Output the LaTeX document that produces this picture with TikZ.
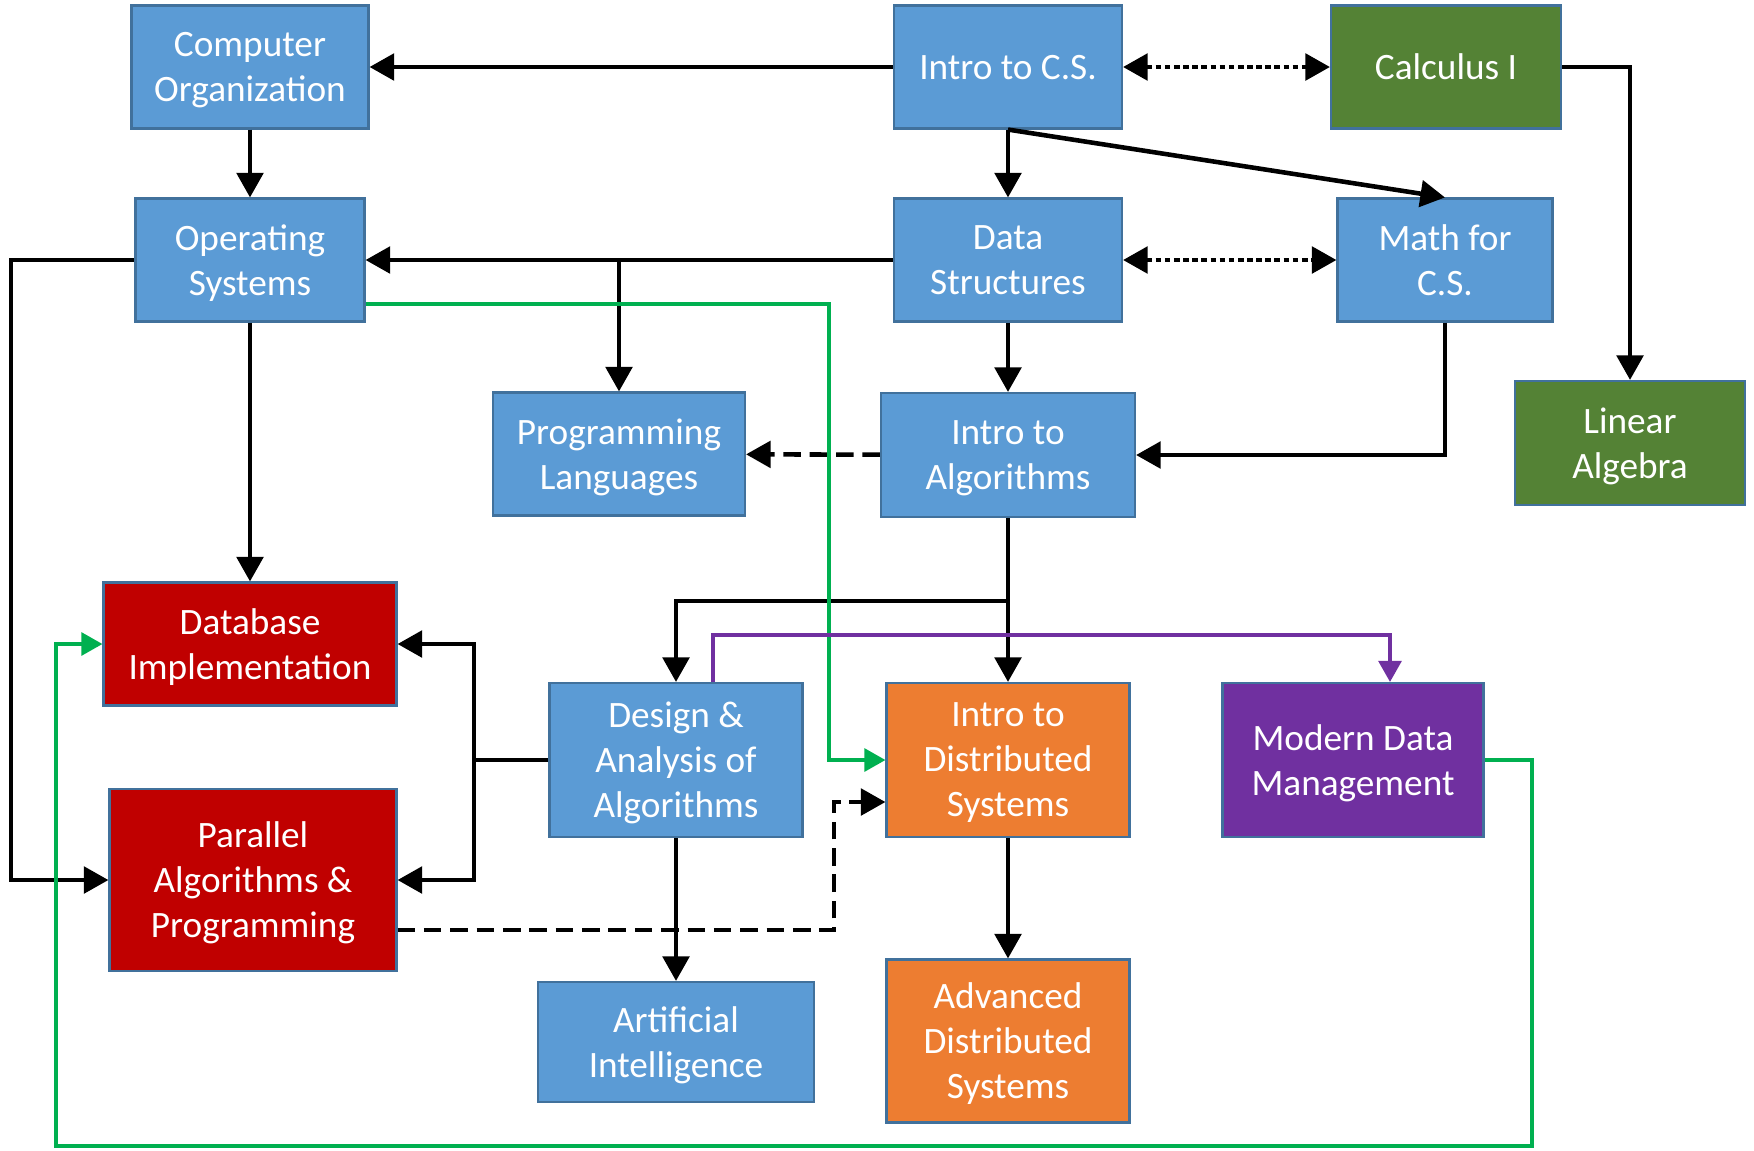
\documentclass[tikz,border=0pt]{standalone}
\usepackage{fontspec}
\setmainfont{Carlito}
\usetikzlibrary{arrows.meta}

\definecolor{csblue}{HTML}{5B9BD5}
\definecolor{mathgreen}{HTML}{548235}
\definecolor{dbred}{HTML}{C00000}
\definecolor{distorange}{HTML}{ED7D31}
\definecolor{datapurple}{HTML}{7030A0}
\definecolor{frameblue}{HTML}{41719C}
\definecolor{linkgreen}{HTML}{00B050}

\begin{document}
\begin{tikzpicture} [
                x=0.1mm, y=-0.1mm,
                course/.style={draw=frameblue,line width=0.6pt,inner sep=0pt,align=center,text depth=-1.2pt,
                    text=white,font=\fontsize{10.6}{12.8}\selectfont},
                link/.style = {draw,line width=1.3pt,-{Triangle[length=7pt,width=7.5pt]}},
                both link/.style = {draw,line width=1.3pt,{Triangle[length=7pt,width=7.5pt]}-{Triangle[length=7pt,width=7.5pt]},
                    dash pattern=on 1.6pt off 1pt},
                maybe link/.style = {link,dash pattern=on 5pt off 2.5pt},
                green link/.style = {draw,linkgreen,line width=1pt,-{Triangle[length=6pt,width=6.5pt]}},
                purple link/.style = {draw,datapurple,line width=1pt,-{Triangle[length=6pt,width=6.5pt]}},
            ]
            \useasboundingbox (0,0) rectangle (1754,1150);
            % First we draw the courses
            \foreach \pos/\name/\w/\h/\col/\label in {
                    {(250,67)/comporg/237/123/csblue/Computer\\Organization},
                    {(1008,67)/introcs/228/123/csblue/Intro to C.S.},
                    {(1446,67)/calc/230/123/mathgreen/Calculus I},
                    {(250,260)/os/229/123/csblue/Operating\\Systems},
                    {(1008,260)/ds/228/123/csblue/Data\\Structures},
                    {(1445,260)/mathcs/215/123/csblue/Math for\\C.S.},
                    {(619,454)/proglang/252/123/csblue/Programming\\Languages},
                    {(1008,455)/introalgo/254/124/csblue/Intro to\\Algorithms},
                    {(1630,443)/linalg/230/124/mathgreen/Linear\\Algebra},
                    {(250,644)/dbimpl/293/123/dbred/Database\\Implementation},
                    {(253,880)/parallel/287/182/dbred/Parallel\\Algorithms \&\\Programming},
                    {(676,760)/design/253/154/csblue/Design \&\\Analysis of\\Algorithms},
                    {(1008,760)/introdist/243/154/distorange/Intro to\\Distributed\\Systems},
                    {(1353,760)/moderndata/261/154/datapurple/Modern Data\\Management},
                    {(676,1042)/ai/276/120/csblue/Artificial\\Intelligence},
                    {(1008,1041)/advdist/243/163/distorange/Advanced\\Distributed\\Systems}}
                \node[course,fill=\col,minimum width=\w*0.1mm,minimum height=\h*0.1mm] (\name) at \pos {\label};
            % Prerequisites
            \foreach \source/ \dest in {
                    introcs/comporg,
                    comporg/os,
                    introcs/ds,
                    ds/os,
                    ds/introalgo,
                    os/dbimpl,
                    design/ai,
                    introdist/advdist}
                \path[link] (\source) -- (\dest);
            \path[link] (introcs.south) -- (mathcs.north);
            \path[link] (calc.east) -| (linalg.north);
            \path[link] (proglang.north |- ds.west) -- (proglang.north);
            \path[link] (mathcs.south) |- (introalgo.east);
            \path[link] (introalgo.south) -- (1008,601) -| (design.north);
            \path[link] (1008,601) -- (introdist.north);
            \path[link] (os.west) -- (11,260) |- (parallel.west);
            \path[link] (design.west) -- (474,760) |- (dbimpl.east);
            \path[link] (474,760) |- (parallel.east);
            % Optional or co-requisite links
            \path[both link] (introcs) -- (calc);
            \path[both link] (ds) -- (mathcs);
            \path[maybe link] (introalgo) -- (proglang);
            \path[maybe link] (parallel.east |- 0,930) -- (834,930) |- (introdist.west |- 0,802);
            % Coloured tracks
            \path[green link] (os.east |- 0,304) -- (829,304) |- (introdist.west);
            \path[green link] (moderndata.east) -| (1532,1146) -| (56,644) -- (dbimpl.west);
            \path[purple link] (design.north -| 713,0) -- (713,635) -| (moderndata.north -| 1390,0);
        \end{tikzpicture}
\end{document}
